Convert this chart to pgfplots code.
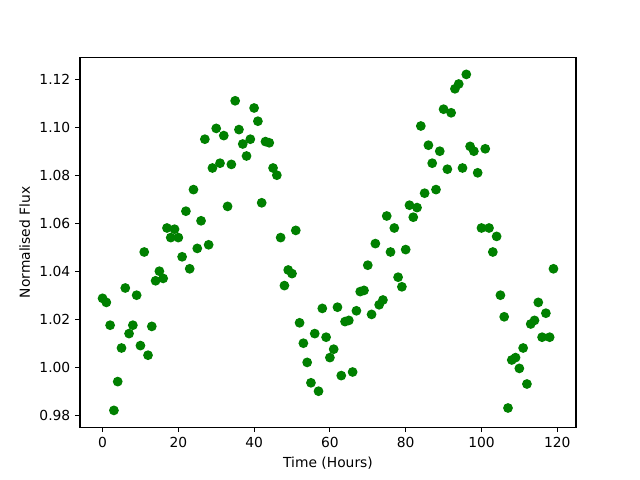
\documentclass[border=0pt]{standalone}
\usepackage{pgfplots}
\pgfplotsset{compat=1.18}
\usepackage{fontspec}
\setmainfont{DejaVu Sans}
\definecolor{mplgreen}{rgb}{0,0.5,0}
\begin{document}
\begin{tikzpicture}
\path[use as bounding box] (0,0) rectangle (6.4in,4.8in);
\begin{axis}[
  at={(0.8in,0.528in)}, anchor=south west,
  scale only axis, width=4.96in, height=3.696in,
  xmin=-5.95, xmax=124.95, ymin=0.975, ymax=1.129,
  xtick={0,20,40,60,80,100,120},
  ytick={0.98,1.00,1.02,1.04,1.06,1.08,1.10,1.12},
  yticklabel style={/pgf/number format/.cd, fixed, fixed zerofill, precision=2},
  /pgf/number format/assume math mode=true,
  tick align=outside, xtick pos=bottom, ytick pos=left,
  major tick length=3.5pt,
  axis line style={line width=0.8pt},
  every tick/.style={black, line width=0.8pt},
  tick label style={font=\fontsize{10}{12}\selectfont},
  label style={font=\fontsize{10}{12}\selectfont},
  xlabel={Time (Hours)}, ylabel={Normalised Flux},
]
\addplot[only marks, mark=*, mark size=3pt, mplgreen, mark options={fill=mplgreen, draw=mplgreen, line width=1pt}] coordinates {
(0,1.0287) (1,1.027) (2,1.0175) (3,0.982) (4,0.994) (5,1.008) (6,1.033) (7,1.014) (8,1.0175) (9,1.030)
(10,1.009) (11,1.048) (12,1.005) (13,1.017) (14,1.036) (15,1.040) (16,1.037) (17,1.058) (18,1.054) (19,1.0575)
(20,1.054) (21,1.046) (22,1.065) (23,1.041) (24,1.074) (25,1.0495) (26,1.061) (27,1.095) (28,1.051) (29,1.083)
(30,1.0995) (31,1.085) (32,1.0965) (33,1.067) (34,1.0845) (35,1.111) (36,1.099) (37,1.093) (38,1.088) (39,1.095)
(40,1.108) (41,1.1025) (42,1.0685) (43,1.094) (44,1.0935) (45,1.083) (46,1.080) (47,1.054) (48,1.034) (49,1.0405)
(50,1.039) (51,1.057) (52,1.0185) (53,1.010) (54,1.002) (55,0.9935) (56,1.014) (57,0.990) (58,1.0245) (59,1.0125)
(60,1.004) (61,1.0075) (62,1.025) (63,0.9965) (64,1.019) (65,1.0195) (66,0.998) (67,1.0235) (68,1.0315) (69,1.032)
(70,1.0425) (71,1.022) (72,1.0515) (73,1.026) (74,1.028) (75,1.063) (76,1.048) (77,1.058) (78,1.0375) (79,1.0335)
(80,1.049) (81,1.0675) (82,1.0625) (83,1.0665) (84,1.1005) (85,1.0725) (86,1.0925) (87,1.085) (88,1.074) (89,1.090)
(90,1.1075) (91,1.0825) (92,1.106) (93,1.116) (94,1.118) (95,1.083) (96,1.122) (97,1.092) (98,1.090) (99,1.081)
(100,1.058) (101,1.091) (102,1.058) (103,1.048) (104,1.0545) (105,1.030) (106,1.021) (107,0.983) (108,1.003) (109,1.004)
(110,0.9995) (111,1.008) (112,0.993) (113,1.018) (114,1.0195) (115,1.027) (116,1.0125) (117,1.0225) (118,1.0125) (119,1.041)
};
\end{axis}
\end{tikzpicture}
\end{document}
